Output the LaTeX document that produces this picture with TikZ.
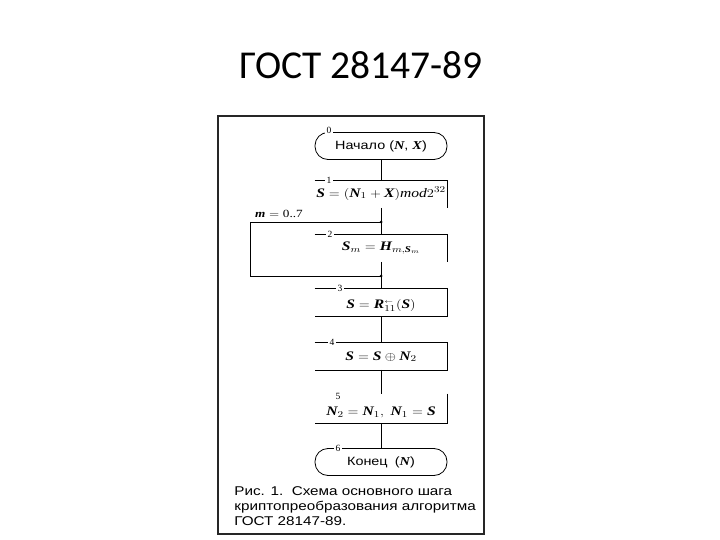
\documentclass[tikz,border=0pt]{standalone}
\usepackage{amsmath}
\usepackage{graphicx}
\usepackage{fontspec}
\setmainfont{Liberation Sans}
\newfontfamily\titlefont{Carlito}
\newfontfamily\tmfont{Liberation Serif}
\newcommand\V[1]{\text{\tmfont\bfseries\itshape #1}}
\newcommand\Rm[1]{\text{\tmfont #1}}
\newcommand\W[1]{\scalebox{1.2}[1]{#1}}
\begin{document}
\begin{tikzpicture}[x=1pt,y=-1pt,
  line width=0.8pt,
  term/.style={draw, rounded corners=13pt, minimum width=132pt, minimum height=27pt, inner sep=0pt, font=\fontsize{12}{14}\selectfont},
  stepbox/.style={minimum width=132pt, minimum height=27pt, inner sep=0pt, text height=9pt, text depth=3pt, font=\fontsize{13}{15}\selectfont},
  num/.style={fill=white, inner sep=1.5pt, font=\tmfont\fontsize{9.5}{10}\selectfont},
  dot/.style={circle, fill=black, inner sep=0pt, minimum size=3pt},
  conn/.style={line width=0.8pt}]
\useasboundingbox (0,0) rectangle (720,540);
% title
\node[anchor=base, font=\titlefont\fontsize{39.5}{42}\selectfont] (title) at (361,79) {ГОСТ 28147-89};
% frame
\draw[line width=1.2pt, black!85] (218,116) rectangle (484,534);
% start terminator
\node[term] (t0) at (381,146) {\W{Начало ($\V{N}$, $\V{X}$)}};
\node[num] (n0) at (329,130) {0};
% box 1
\node[stepbox] (b1) at (381,194) {\W{$\V{S} = (\V{N}_1 + \V{X})\text{\tmfont\itshape mod}2^{32}$}};
\draw (b1.north west) -- (b1.north east) -- (b1.south east);
\node[num] (n1) at (329,180) {1};
% loop
\coordinate (lt) at (381,222);
\coordinate (lb) at (381,276);
\node[dot] (dt) at (lt) {};
\node[dot] (db) at (lb) {};
\draw[conn] (lt) -- (250,222) -- (250,276) -- (lb);
\node[anchor=base, font=\fontsize{11}{12}\selectfont] (mlabel) at (279,218) {\W{$\V{m} = \Rm{0..7}$}};
% box 2
\node[stepbox] (b2) at (381,248) {\W{$\V{S}_{m} = \V{H}_{m,\V{S}_m}$}};
\draw (b2.north west) -- (b2.north east) -- (b2.south east);
\node[num] (n2) at (330,234) {2};
% box 3
\node[stepbox] (b3) at (381,302.5) {\raisebox{-3pt}{\W{$\V{S} = \V{R}^{\scriptscriptstyle\leftarrow}_{11}(\V{S})$}}};
\draw (b3.north west) -- (b3.north east) -- (b3.south east) -- (b3.south west);
\node[num] (n3) at (340,288) {3};
% box 4
\node[stepbox] (b4) at (381,356) {\raisebox{-1pt}{\W{$\V{S} = \V{S} \oplus \V{N}_2$}}};
\draw (b4.north west) -- (b4.north east) -- (b4.south east) -- (b4.south west);
\node[num] (n4) at (332,342) {4};
% box 5
\node[stepbox, minimum height=29pt] (b5) at (381,408.5) {\raisebox{-4pt}{\W{$\V{N}_2 = \V{N}_1,\ \V{N}_1 = \V{S}$}}};
\draw (b5.north east) -- (b5.south east) -- (b5.south west);
\node[num, fill=none] (n5) at (338,396) {5};
% end terminator
\node[term] (t6) at (381,462) {\W{Конец\enspace($\V{N}$)}};
\node[num] (n6) at (338,448) {6};
% connectors
\draw[conn] (t0) -- (b1);
\draw[conn] (b1) -- (lt);
\draw[conn] (lt) -- (b2);
\draw[conn] (b2) -- (lb);
\draw[conn] (lb) -- (b3);
\draw[conn] (b3) -- (b4);
\draw[conn] (b4) -- (b5);
\draw[conn] (b5) -- (t6);
% caption
\node[anchor=north west, align=left, inner sep=0pt, font=\fontsize{12.7}{15}\selectfont] (cap) at (234,486) {\W{Рис. 1.\ \ Схема основного шага}\\\W{криптопреобразования алгоритма}\\\W{ГОСТ 28147-89.}};
\end{tikzpicture}
\end{document}
